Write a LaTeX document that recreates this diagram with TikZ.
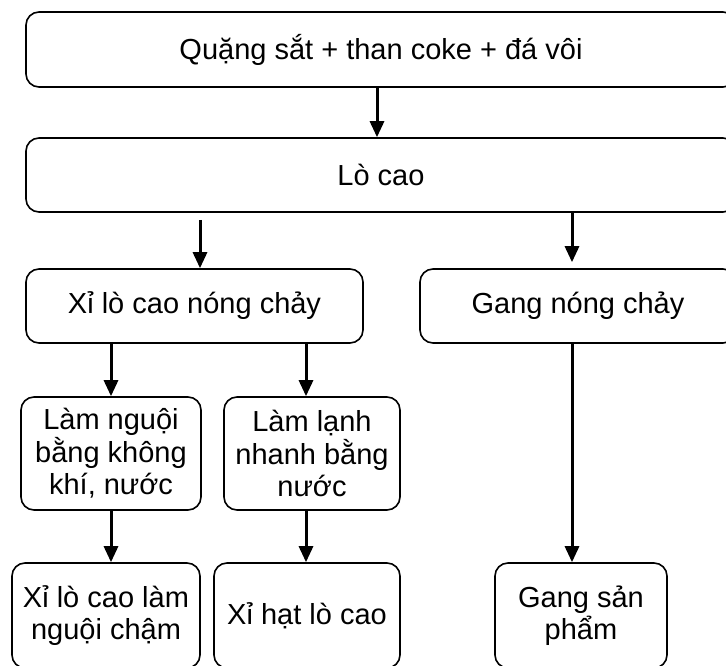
\documentclass[tikz,border=0pt]{standalone}
\usepackage{fontspec}
\setmainfont{Liberation Sans}
\usetikzlibrary{arrows.meta}
\begin{document}
\begin{tikzpicture}[x=1pt,y=-1pt,
  box/.style={draw, line width=1.6pt, rounded corners=13pt, inner sep=0pt, align=center,
    font=\fontsize{29}{32.5}\selectfont},
  arr/.style={line width=3pt, -{Triangle[width=14pt,length=16pt]}}]
\useasboundingbox (0,0) rectangle (726,666);
\clip (0,0) rectangle (726,666);
% boxes
\node[box, minimum width=710pt, minimum height=75pt] (b1) at (381,49.5) {Quặng sắt + than coke + đá vôi};
\node[box, minimum width=710pt, minimum height=74pt] (b2) at (381,175) {Lò cao};
\node[box, minimum width=337pt, minimum height=74pt] (b3l) at (194.5,306) {Xỉ lò cao nóng chảy};
\node[box, minimum width=316pt, minimum height=74pt] (b3r) at (578,306) {Gang nóng chảy};
\node[box, minimum width=180pt, minimum height=113pt] (b4a) at (111,453.5) {Làm nguội\\bằng không\\khí, nước};
\node[box, minimum width=176pt, minimum height=113pt] (b4b) at (312,453.5) {Làm lạnh\\nhanh bằng\\nước};
\node[box, minimum width=188pt, minimum height=105pt] (b5a) at (106,615.5) {Xỉ lò cao làm\\nguội chậm};
\node[box, minimum width=186pt, minimum height=105pt] (b5b) at (307,615.5) {Xỉ hạt lò cao};
\node[box, minimum width=172pt, minimum height=105pt] (b5c) at (581,615.5) {Gang sản\\phẩm};
% arrow columns
\coordinate (xa) at (377,0);
\coordinate (xb) at (200,0);
\coordinate (xc) at (572,0);
\coordinate (xd) at (111,0);
\coordinate (xe) at (306,0);
% connectors
\draw[arr] (b1.south -| xa) -- (b2.north -| xa);
\draw[arr] ([yshift=-7pt]b2.south -| xb) -- (b3l.north -| xb);
\draw[arr] (b2.south -| xc) -- ([yshift=6pt]b3r.north -| xc);
\draw[arr] (b3l.south -| xd) -- (b4a.north -| xd);
\draw[arr] (b3l.south -| xe) -- (b4b.north -| xe);
\draw[arr] (b4a.south -| xd) -- (b5a.north -| xd);
\draw[arr] (b4b.south -| xe) -- (b5b.north -| xe);
\draw[arr] (b3r.south -| xc) -- (b5c.north -| xc);
\end{tikzpicture}
\end{document}
